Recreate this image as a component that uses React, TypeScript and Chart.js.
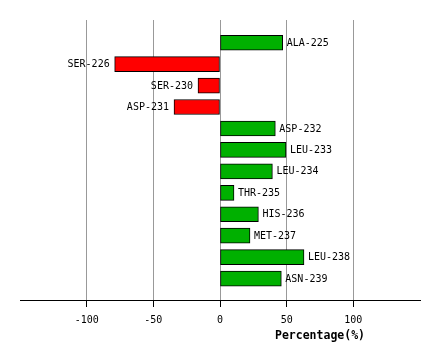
import React, { useEffect, useRef } from "react";
import { Chart, registerables } from "chart.js";

Chart.register(...registerables);

const categories = [
  "ALA-225", "SER-226", "SER-230", "ASP-231", "ASP-232", "LEU-233",
  "LEU-234", "THR-235", "HIS-236", "MET-237", "LEU-238", "ASN-239",
];
const values = [47, -79, -16.5, -34.5, 41.5, 49.5, 39.3, 10.5, 28.8, 22.5, 63, 46];
const axisTitle = "Percentage(%)";
const GREEN = "#00b000";
const RED = "#ff0000";
const MONO = "'DejaVu Sans Mono', monospace";

const labelPlugin = {
  id: "barLabels",
  afterDatasetsDraw(chart: any) {
    const ctx = chart.ctx;
    const meta = chart.getDatasetMeta(0);
    ctx.save();
    ctx.font = `10px ${MONO}`;
    ctx.fillStyle = "#000";
    ctx.textBaseline = "middle";
    meta.data.forEach((el: any, i: number) => {
      const v = values[i];
      if (v >= 0) {
        ctx.textAlign = "left";
        ctx.fillText(categories[i], el.x + 4, el.y + 0.5);
      } else {
        ctx.textAlign = "right";
        ctx.fillText(categories[i], el.x - 5, el.y + 0.5);
      }
    });
    // axis title centered over the positive half
    const xs = chart.scales.x;
    const zero = xs.getPixelForValue(0);
    const cx = (zero + xs.right) / 2;
    ctx.font = `bold 11.5px ${MONO}`;
    ctx.textAlign = "center";
    ctx.fillText(axisTitle, cx, chart.chartArea.bottom + 36);
    ctx.restore();
  },
};

export default function App() {
  const ref = useRef<HTMLCanvasElement>(null);
  useEffect(() => {
    const chart = new Chart(ref.current!, {
      type: "bar",
      data: {
        datasets: [
          {
            data: values.map((v, i) => ({ x: v, y: i })),
            backgroundColor: values.map((v) => (v >= 0 ? GREEN : RED)),
            borderColor: "#000",
            borderWidth: 1,
            borderSkipped: false,
            barThickness: 15,
          },
        ],
      },
      options: {
        indexAxis: "y",
        animation: false,
        responsive: false,
        maintainAspectRatio: false,
        layout: { padding: { left: 20, right: 20, top: 20, bottom: 0 } },
        plugins: { legend: { display: false }, tooltip: { enabled: false } },
        scales: {
          x: {
            type: "linear",
            min: -150,
            max: 150,
            offset: false,
            afterBuildTicks: (s: any) => {
              s.ticks = s.ticks.filter((t: any) => Math.abs(t.value) < 150);
            },
            afterFit: (s: any) => {
              s.height = 60;
            },
            ticks: {
              stepSize: 50,
              color: "#000",
              font: { family: MONO, size: 10 },
              padding: 7,
              maxRotation: 0,
            },
            grid: {
              color: "#999999",
              tickColor: "#000",
              tickLength: 7,
              lineWidth: 1,
              offset: false,
            },
            border: { color: "#000", width: 1 },
          },
          y: {
            type: "linear",
            reverse: true,
            offset: false,
            min: -1.06,
            max: 12,
            display: false,
            grid: { offset: false },
          },
        },
      },
      plugins: [labelPlugin],
    });
    return () => chart.destroy();
  }, []);
  return (
    <div style={{ position: "fixed", left: 0, top: 0, width: 440, height: 360, background: "#fff" }}>
      <canvas ref={ref} width={440} height={360} style={{ width: 440, height: 360 }} />
    </div>
  );
}
